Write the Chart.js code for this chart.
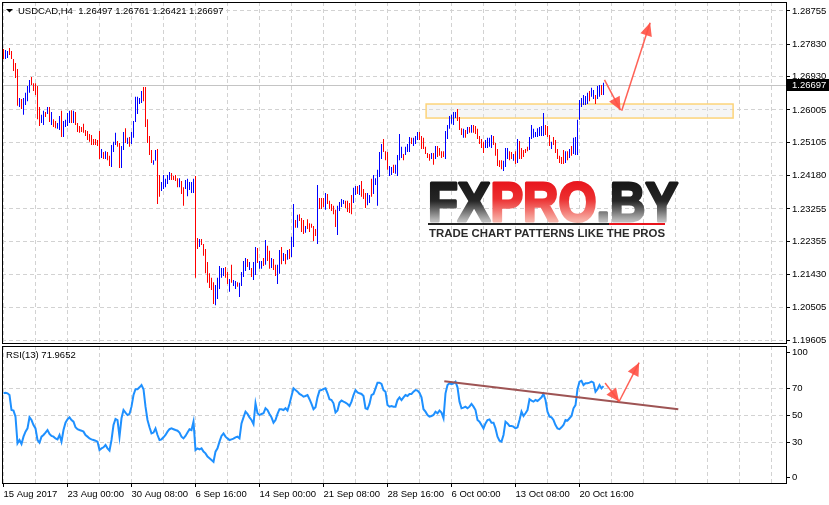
<!DOCTYPE html>
<html>
<head>
<meta charset="utf-8">
<script src="https://cdn.jsdelivr.net/npm/chart.js@4.4.1/dist/chart.umd.min.js"></script>
<style>
  html, body { margin: 0; padding: 0; background: #fff; }
  #wrap { position: relative; width: 829px; height: 505px; overflow: hidden; }
  #cPrice { position: absolute; left: 0; top: 0; }
  #cRsi { position: absolute; left: 0; top: 344px; }
</style>
</head>
<body>
<div id="wrap">
  <canvas id="cPrice" width="829" height="346"></canvas>
  <canvas id="cRsi" width="829" height="161"></canvas>
</div>
<script>
// USDCAD H4, one entry per bar (15 Aug 2017 -> 25 Oct 2017)
const barHigh = [
  1.2770,1.2767,1.2764,1.2773,1.2764,1.2742,1.2731,1.2714,1.2634,1.2631,
  1.2634,1.2648,1.2667,1.2684,1.2692,1.2675,1.2675,1.2667,1.2609,1.2587,
  1.2598,1.2595,1.2609,1.2609,1.2595,1.2575,1.2570,1.2564,1.2584,1.2598,
  1.2570,1.2573,1.2592,1.2598,1.2600,1.2598,1.2595,1.2564,1.2556,1.2553,
  1.2562,1.2545,1.2542,1.2534,1.2531,1.2520,1.2520,1.2517,1.2542,1.2492,
  1.2484,1.2486,1.2484,1.2473,1.2503,1.2512,1.2537,1.2514,1.2509,1.2500,
  1.2539,1.2550,1.2523,1.2525,1.2539,1.2570,1.2637,1.2637,1.2634,1.2653,
  1.2664,1.2664,1.2575,1.2528,1.2489,1.2461,1.2489,1.2492,1.2420,1.2400,
  1.2420,1.2409,1.2420,1.2428,1.2425,1.2417,1.2420,1.2411,1.2411,1.2403,
  1.2386,1.2406,1.2409,1.2400,1.2400,1.2409,1.2417,1.2245,1.2242,1.2242,
  1.2228,1.2214,1.2178,1.2147,1.2134,1.2122,1.2114,1.2134,1.2167,1.2161,
  1.2161,1.2164,1.2150,1.2131,1.2170,1.2128,1.2125,1.2122,1.2120,1.2150,
  1.2181,1.2189,1.2186,1.2178,1.2161,1.2178,1.2220,1.2217,1.2181,1.2181,
  1.2189,1.2239,1.2223,1.2209,1.2189,1.2186,1.2170,1.2170,1.2211,1.2220,
  1.2203,1.2200,1.2211,1.2214,1.2248,1.2339,1.2295,1.2309,1.2311,1.2300,
  1.2295,1.2278,1.2297,1.2286,1.2284,1.2278,1.2270,1.2392,1.2356,1.2356,
  1.2356,1.2370,1.2367,1.2348,1.2339,1.2334,1.2323,1.2334,1.2345,1.2353,
  1.2350,1.2348,1.2348,1.2342,1.2364,1.2384,1.2389,1.2389,1.2392,1.2403,
  1.2381,1.2370,1.2370,1.2364,1.2409,1.2420,1.2411,1.2434,1.2484,1.2506,
  1.2520,1.2486,1.2484,1.2445,1.2442,1.2448,1.2448,1.2475,1.2534,1.2498,
  1.2478,1.2498,1.2506,1.2525,1.2523,1.2523,1.2528,1.2539,1.2539,1.2528,
  1.2523,1.2498,1.2481,1.2478,1.2481,1.2481,1.2500,1.2500,1.2495,1.2486,
  1.2486,1.2542,1.2559,1.2584,1.2587,1.2595,1.2595,1.2603,1.2581,1.2550,
  1.2548,1.2545,1.2553,1.2553,1.2559,1.2559,1.2556,1.2548,1.2528,1.2520,
  1.2512,1.2517,1.2523,1.2523,1.2531,1.2528,1.2509,1.2492,1.2461,1.2461,
  1.2459,1.2495,1.2495,1.2486,1.2484,1.2478,1.2486,1.2520,1.2514,1.2495,
  1.2489,1.2492,1.2498,1.2525,1.2559,1.2548,1.2539,1.2550,1.2553,1.2556,
  1.2592,1.2559,1.2556,1.2531,1.2512,1.2525,1.2517,1.2492,1.2473,1.2470,
  1.2489,1.2486,1.2486,1.2492,1.2500,1.2523,1.2525,1.2573,1.2628,1.2634,
  1.2642,1.2639,1.2648,1.2653,1.2662,1.2656,1.2642,1.2667,1.2670,1.2670,
  1.2676
];
const barLow = [
  1.2742,1.2742,1.2745,1.2753,1.2742,1.2709,1.2689,1.2612,1.2609,1.2603,
  1.2587,1.2614,1.2625,1.2648,1.2670,1.2653,1.2642,1.2575,1.2556,1.2564,
  1.2559,1.2581,1.2589,1.2567,1.2559,1.2553,1.2550,1.2548,1.2545,1.2525,
  1.2525,1.2553,1.2556,1.2564,1.2564,1.2564,1.2559,1.2539,1.2537,1.2539,
  1.2537,1.2528,1.2517,1.2512,1.2503,1.2503,1.2503,1.2500,1.2464,1.2467,
  1.2464,1.2464,1.2461,1.2445,1.2442,1.2484,1.2503,1.2498,1.2439,1.2439,
  1.2489,1.2509,1.2506,1.2498,1.2506,1.2523,1.2567,1.2589,1.2617,1.2620,
  1.2625,1.2553,1.2509,1.2475,1.2453,1.2448,1.2459,1.2339,1.2359,1.2375,
  1.2381,1.2386,1.2395,1.2406,1.2406,1.2406,1.2403,1.2386,1.2386,1.2367,
  1.2334,1.2381,1.2361,1.2378,1.2370,1.2370,1.2134,1.2214,1.2220,1.2225,
  1.2195,1.2147,1.2120,1.2106,1.2100,1.2061,1.2058,1.2075,1.2103,1.2134,
  1.2139,1.2134,1.2117,1.2095,1.2120,1.2111,1.2103,1.2109,1.2081,1.2111,
  1.2136,1.2153,1.2164,1.2156,1.2136,1.2128,1.2142,1.2175,1.2159,1.2159,
  1.2167,1.2170,1.2181,1.2159,1.2161,1.2156,1.2139,1.2117,1.2145,1.2172,
  1.2181,1.2172,1.2184,1.2186,1.2192,1.2220,1.2273,1.2273,1.2292,1.2261,
  1.2256,1.2259,1.2270,1.2261,1.2273,1.2236,1.2250,1.2228,1.2325,1.2325,
  1.2331,1.2323,1.2339,1.2325,1.2320,1.2311,1.2275,1.2253,1.2320,1.2331,
  1.2339,1.2328,1.2317,1.2314,1.2311,1.2342,1.2364,1.2367,1.2364,1.2359,
  1.2353,1.2328,1.2336,1.2342,1.2359,1.2367,1.2392,1.2334,1.2414,1.2464,
  1.2484,1.2461,1.2434,1.2417,1.2420,1.2425,1.2423,1.2417,1.2461,1.2467,
  1.2461,1.2475,1.2484,1.2484,1.2506,1.2500,1.2506,1.2517,1.2517,1.2492,
  1.2492,1.2478,1.2467,1.2459,1.2464,1.2448,1.2464,1.2470,1.2473,1.2467,
  1.2470,1.2464,1.2520,1.2548,1.2562,1.2559,1.2578,1.2570,1.2545,1.2531,
  1.2523,1.2523,1.2534,1.2537,1.2537,1.2537,1.2534,1.2520,1.2506,1.2495,
  1.2481,1.2495,1.2495,1.2498,1.2495,1.2503,1.2473,1.2445,1.2442,1.2436,
  1.2431,1.2442,1.2464,1.2461,1.2464,1.2459,1.2450,1.2453,1.2464,1.2464,
  1.2470,1.2481,1.2486,1.2489,1.2520,1.2523,1.2525,1.2525,1.2528,1.2528,
  1.2528,1.2531,1.2525,1.2500,1.2492,1.2503,1.2481,1.2464,1.2453,1.2450,
  1.2450,1.2453,1.2461,1.2467,1.2473,1.2478,1.2475,1.2475,1.2573,1.2609,
  1.2614,1.2614,1.2617,1.2625,1.2637,1.2631,1.2617,1.2631,1.2637,1.2642,
  1.2642
];
// u = bull bar (blue), d = bear bar (red)
const barDir = ('duudddddud uuuudddddu udududduud uuuududddd dddddddddu dudduuuddu ' +
  'ududuuuuuu ddddduuddu uuuuddddud duuuuuddud dddddduuuu udduduuduu uududuuduu ' +
  'duddudduud ududuududd dudddddudd duddddduuu udddduudud dduuduuuuu ddduuduuuu ' +
  'duuuduuudd ddddududdd duuuuuuddd udududdddd duuuuddddd uuuddududd ddduuuuuuu ' +
  'uddduddddd dududuuuuu uuuduuduud u').replace(/ /g, '').split('');

const rsiValues = [
  66.6,67.0,66.6,65.3,54.2,53.8,49.3,29.5,32.0,29.0,
  34.5,38.2,40.6,48.8,46.8,43.1,40.6,32.0,30.0,34.5,
  35.7,37.5,39.4,36.5,35.0,34.5,33.2,32.5,35.7,30.8,
  39.4,44.8,47.3,48.8,46.8,45.6,41.4,40.0,39.4,38.9,
  38.2,35.7,34.5,33.2,32.5,32.0,31.5,30.8,24.6,25.8,
  26.6,28.3,25.8,24.2,32.0,43.1,47.6,46.8,34.5,48.1,
  54.2,52.3,50.5,51.3,56.7,65.3,69.6,69.6,71.0,72.7,
  69.6,56.7,46.8,41.4,36.9,37.5,40.6,35.7,32.0,32.5,
  34.0,35.7,38.2,40.0,40.6,40.0,39.4,38.9,37.5,34.5,
  33.2,35.0,37.5,40.0,39.4,45.6,24.6,25.8,25.1,25.8,
  23.4,22.1,19.7,18.5,17.2,15.9,23.4,25.8,30.8,35.0,
  36.9,34.5,33.2,32.0,32.5,33.0,34.0,34.5,33.2,44.3,
  48.8,53.0,51.3,48.8,46.8,43.8,59.2,51.8,50.5,51.3,
  51.8,55.5,54.2,51.3,48.8,44.8,46.8,51.3,54.8,54.8,
  54.2,55.5,53.8,58.7,64.6,70.3,69.0,67.8,66.1,65.3,
  64.1,64.6,65.3,62.2,58.7,54.8,56.2,63.6,68.6,69.0,
  69.8,70.3,66.6,62.2,61.6,59.2,52.3,53.8,59.7,61.2,
  60.4,59.7,58.7,57.2,60.4,65.3,69.0,67.3,66.6,66.1,
  64.6,55.5,54.8,58.7,65.3,66.1,70.3,74.5,74.5,73.5,
  69.0,67.8,57.9,56.7,57.2,56.7,56.7,61.6,63.6,61.6,
  63.6,65.3,64.6,66.1,66.1,67.8,69.0,68.6,67.0,63.6,
  54.8,53.0,50.5,49.3,49.8,50.5,53.0,51.8,53.8,52.3,
  48.1,66.6,72.7,74.0,73.3,74.0,75.2,71.0,60.4,55.5,
  56.0,56.7,55.5,56.7,58.7,56.7,54.2,46.8,45.6,43.1,
  40.6,44.3,46.8,47.3,44.8,44.8,40.6,34.5,31.5,30.8,
  35.7,45.6,44.3,42.4,42.4,41.9,40.6,41.4,46.8,53.0,
  49.8,51.8,54.2,62.2,61.2,60.4,61.6,60.9,62.2,63.6,
  66.1,61.6,53.0,49.3,48.8,46.8,43.1,40.6,40.0,41.4,
  43.1,46.8,46.3,48.1,49.8,55.5,57.9,69.6,75.2,75.9,
  72.7,74.0,74.0,74.5,75.2,74.5,67.8,69.6,72.7,70.3,
  71.97
];

const timeLabels = ['15 Aug 2017', '23 Aug 00:00', '30 Aug 08:00', '6 Sep 16:00', '14 Sep 00:00',
  '21 Sep 08:00', '28 Sep 16:00', '6 Oct 00:00', '13 Oct 08:00', '20 Oct 16:00'];
const priceTicks = [1.28755, 1.27830, 1.26930, 1.26005, 1.25105, 1.24180, 1.23255,
  1.22355, 1.21430, 1.20505, 1.19605];
const rsiTicks = [0, 30, 50, 70, 100];
const rsiLevels = [30, 50, 70];

const symbol = 'USDCAD,H4';
const lastBar = [1.26497, 1.26761, 1.26421, 1.26697];
const rsiTitle = 'RSI(13) 71.9652';

// drawn objects on the chart (bar index, price / rsi value)
const zone = { from: 211.3, to: 364.8, top: 1.2617, bottom: 1.2578 };
const priceArrows = [[300.5, 1.2684, 308.5, 1.2600], [309.1, 1.2598, 323.3, 1.2843]];
const rsiTrend = [220.4, 75.5, 337.4, 54.7];
const rsiArrows = [[300.8, 74.2, 307.8, 60.5], [307.8, 60.5, 317.8, 89.3]];

const FONT = 'Liberation Sans';
const gridColor = '#d2d2d2';
const gridBars = [];
for (let v = 0; v <= 384; v += 16) gridBars.push(v);

// keep the plot area exactly where the terminal puts it
function noPad(s) {
  s.paddingTop = 0; s.paddingBottom = 0; s.paddingLeft = 0; s.paddingRight = 0;
}

function arrow(ctx, x0, y0, x1, y1, color) {
  ctx.strokeStyle = color;
  ctx.fillStyle = color;
  ctx.lineWidth = 1.5;
  ctx.beginPath(); ctx.moveTo(x0, y0); ctx.lineTo(x1, y1); ctx.stroke();
  const a = Math.atan2(y1 - y0, x1 - x0), L = 13, W = 6;
  ctx.beginPath();
  ctx.moveTo(x1, y1);
  ctx.lineTo(x1 - L * Math.cos(a) + W * Math.sin(a), y1 - L * Math.sin(a) - W * Math.cos(a));
  ctx.lineTo(x1 - L * Math.cos(a) - W * Math.sin(a), y1 - L * Math.sin(a) + W * Math.cos(a));
  ctx.closePath();
  ctx.fill();
}

function drawLogo(ctx) {
  ctx.save();
  ctx.font = 'bold 56px "' + FONT + '"';
  const total = ctx.measureText('FXPRO.BY').width;
  ctx.translate(428, 221);
  ctx.scale(250 / total, 1);
  ctx.lineJoin = 'round';
  let x = 0;
  [['FX', false], ['PRO', true], ['.BY', false]].forEach(([t, red]) => {
    const g = ctx.createLinearGradient(0, -40, 0, 0);
    if (red) {
      g.addColorStop(0, '#e8141c'); g.addColorStop(0.45, '#ec2f30'); g.addColorStop(1, '#f8b4aa');
    } else {
      g.addColorStop(0, '#161616'); g.addColorStop(0.5, '#262626'); g.addColorStop(1, '#bdbdbd');
    }
    ctx.fillStyle = g;
    ctx.strokeStyle = g;
    ctx.lineWidth = 3;
    ctx.strokeText(t, x, 0);
    ctx.fillText(t, x, 0);
    x += ctx.measureText(t).width;
  });
  ctx.restore();

  ctx.save();
  ctx.lineWidth = 2;
  ctx.strokeStyle = '#222';
  ctx.beginPath(); ctx.moveTo(428, 224); ctx.lineTo(609, 224); ctx.stroke();
  ctx.strokeStyle = '#e8141c';
  ctx.beginPath(); ctx.moveTo(609, 224); ctx.lineTo(665, 224); ctx.stroke();
  ctx.font = 'bold 10px "' + FONT + '"';
  const tag = 'TRADE CHART PATTERNS LIKE THE PROS';
  const w = ctx.measureText(tag).width;
  ctx.translate(429, 237);
  ctx.scale(236 / w, 1);
  ctx.fillStyle = '#2b2b2b';
  ctx.textBaseline = 'alphabetic';
  ctx.fillText(tag, 0, 0);
  ctx.restore();
}

const pricePlugin = {
  id: 'priceExtras',
  beforeDatasetsDraw(chart) {
    const { ctx, chartArea: a, scales: { x, y } } = chart;
    ctx.save();
    ctx.beginPath(); ctx.rect(a.left, a.top, a.right - a.left, a.bottom - a.top); ctx.clip();
    // bid line
    const py = Math.round(y.getPixelForValue(lastBar[3])) + 0.5;
    ctx.strokeStyle = '#c4c4c4'; ctx.lineWidth = 1;
    ctx.beginPath(); ctx.moveTo(a.left, py); ctx.lineTo(a.right, py); ctx.stroke();
    // zone
    const zx0 = x.getPixelForValue(zone.from), zx1 = x.getPixelForValue(zone.to);
    const zy0 = y.getPixelForValue(zone.top), zy1 = y.getPixelForValue(zone.bottom);
    ctx.fillStyle = 'rgba(228,228,228,0.35)';
    ctx.fillRect(zx0, zy0, zx1 - zx0, zy1 - zy0);
    ctx.strokeStyle = '#fdd47a'; ctx.lineWidth = 1.5;
    ctx.strokeRect(zx0, zy0, zx1 - zx0, zy1 - zy0);
    drawLogo(ctx);
    ctx.restore();
  },
  afterDatasetsDraw(chart) {
    const { ctx, scales: { x, y } } = chart;
    ctx.save();
    priceArrows.forEach(p => arrow(ctx, x.getPixelForValue(p[0]), y.getPixelForValue(p[1]),
      x.getPixelForValue(p[2]), y.getPixelForValue(p[3]), 'rgba(255,80,68,0.9)'));
    ctx.restore();
  },
  afterDraw(chart) {
    const { ctx, chartArea: a, scales: { y } } = chart;
    ctx.save();
    ctx.strokeStyle = '#000'; ctx.lineWidth = 1;
    ctx.strokeRect(a.left + 0.5, a.top + 0.5, a.right - a.left, a.bottom - a.top - 1);
    // title
    ctx.fillStyle = '#000';
    ctx.beginPath(); ctx.moveTo(6, 9); ctx.lineTo(13, 9); ctx.lineTo(9.5, 12.5); ctx.closePath(); ctx.fill();
    ctx.font = '9.5px "' + FONT + '"';
    ctx.textBaseline = 'middle';
    ctx.fillText(symbol + '  ' + lastBar.map(v => v.toFixed(5)).join(' '), 18, 11);
    // last price box
    const py = Math.round(y.getPixelForValue(lastBar[3]));
    ctx.fillRect(787, py - 6, 42, 12);
    ctx.fillStyle = '#fff';
    ctx.fillText(lastBar[3].toFixed(5), 792, py);
    ctx.restore();
  }
};

const rsiPlugin = {
  id: 'rsiExtras',
  afterDatasetsDraw(chart) {
    const { ctx, chartArea: a, scales: { x, y } } = chart;
    ctx.save();
    ctx.beginPath(); ctx.rect(a.left, a.top, a.right - a.left, a.bottom - a.top); ctx.clip();
    ctx.strokeStyle = '#9e5454'; ctx.lineWidth = 2;
    ctx.beginPath();
    ctx.moveTo(x.getPixelForValue(rsiTrend[0]), y.getPixelForValue(rsiTrend[1]));
    ctx.lineTo(x.getPixelForValue(rsiTrend[2]), y.getPixelForValue(rsiTrend[3]));
    ctx.stroke();
    rsiArrows.forEach(p => arrow(ctx, x.getPixelForValue(p[0]), y.getPixelForValue(p[1]),
      x.getPixelForValue(p[2]), y.getPixelForValue(p[3]), 'rgba(255,80,68,0.9)'));
    ctx.restore();
  },
  afterDraw(chart) {
    const { ctx, chartArea: a } = chart;
    ctx.save();
    ctx.strokeStyle = '#000'; ctx.lineWidth = 1;
    ctx.strokeRect(a.left + 0.5, a.top + 0.5, a.right - a.left, a.bottom - a.top - 1);
    ctx.fillStyle = '#000';
    ctx.font = '9.5px "' + FONT + '"';
    ctx.textBaseline = 'middle';
    ctx.fillText(rsiTitle, 6, 11);
    ctx.restore();
  }
};

const tickFont = { family: FONT, size: 9.5 };

new Chart(document.getElementById('cPrice'), {
  type: 'bar',
  data: {
    datasets: [{
      data: barHigh.map((h, i) => ({ x: i, y: [barLow[i], h] })),
      backgroundColor: barDir.map(d => d === 'u' ? '#0000ff' : '#ff0000'),
      barThickness: 1,
      borderWidth: 0,
      inflateAmount: 0
    }]
  },
  options: {
    responsive: false,
    animation: false,
    devicePixelRatio: 1,
    layout: { padding: { left: 2, top: 2, right: 0, bottom: 2 } },
    plugins: { legend: { display: false }, tooltip: { enabled: false } },
    scales: {
      x: {
        type: 'linear', min: -0.75, max: 391.25, offset: false,
        afterBuildTicks: s => { s.ticks = gridBars.map(v => ({ value: v })); },
        afterFit: s => { s.height = 0; noPad(s); },
        ticks: { display: false },
        grid: { color: gridColor, drawTicks: false, offset: false },
        border: { display: false, dash: [4, 3] }
      },
      y: {
        position: 'right', min: 1.19501, max: 1.29005,
        afterBuildTicks: s => { s.ticks = priceTicks.map(v => ({ value: v })); },
        afterFit: s => { s.width = 43; noPad(s); },
        ticks: { callback: v => v.toFixed(5), color: '#000', font: tickFont, padding: 2 },
        grid: { color: gridColor, tickColor: '#000', tickLength: 4 },
        border: { display: false, dash: [4, 3] }
      }
    }
  },
  plugins: [pricePlugin]
});

new Chart(document.getElementById('cRsi'), {
  type: 'line',
  data: {
    datasets: [{
      data: rsiValues.map((v, i) => ({ x: i, y: v })),
      borderColor: '#1e90ff',
      borderWidth: 2,
      pointRadius: 0,
      tension: 0,
      fill: false
    }]
  },
  options: {
    responsive: false,
    animation: false,
    devicePixelRatio: 1,
    layout: { padding: { left: 2, top: 2, right: 0, bottom: 0 } },
    plugins: { legend: { display: false }, tooltip: { enabled: false } },
    scales: {
      x: {
        type: 'linear', min: -0.75, max: 391.25, offset: false,
        afterBuildTicks: s => { s.ticks = gridBars.map(v => ({ value: v })); },
        afterFit: s => { s.height = 21; noPad(s); },
        ticks: {
          autoSkip: false, maxRotation: 0, align: 'start', padding: 2, color: '#000', font: tickFont,
          callback: v => (v % 32 === 0 && timeLabels[v / 32]) ? timeLabels[v / 32] : ''
        },
        grid: {
          color: gridColor, tickLength: 3, offset: false,
          tickColor: c => (c.tick && c.tick.value % 32 === 0 && c.tick.value <= 288) ? '#000' : 'rgba(0,0,0,0)'
        },
        border: { display: false, dash: [4, 3] }
      },
      y: {
        position: 'right', min: -0.59, max: 101.63,
        // 0 and 100 labels sit slightly inside the window, as in the terminal
        afterBuildTicks: s => { s.ticks = rsiTicks.map(v => ({ value: v === 0 ? 4.4 : v === 100 ? 96.7 : v })); },
        afterFit: s => { s.width = 43; noPad(s); },
        ticks: {
          color: '#000', font: tickFont, padding: 2,
          callback: v => v < 10 ? '0' : v > 90 ? '100' : String(v)
        },
        grid: {
          color: c => rsiLevels.includes(c.tick && c.tick.value) ? gridColor : 'rgba(0,0,0,0)',
          tickColor: '#000', tickLength: 4
        },
        border: { display: false, dash: [4, 3] }
      }
    }
  },
  plugins: [rsiPlugin]
});
</script>
</body>
</html>
